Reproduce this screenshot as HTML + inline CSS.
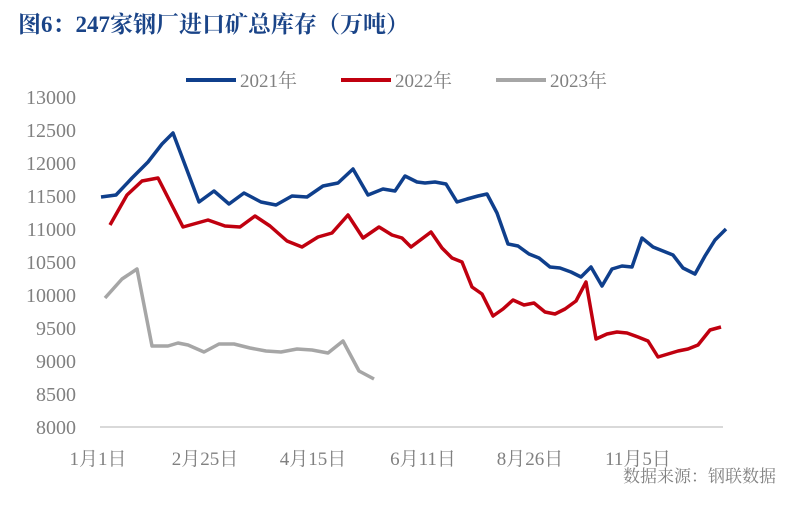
<!DOCTYPE html>
<html><head><meta charset="utf-8"><style>
body{margin:0;background:#fff;}
svg text{font-family:"Liberation Serif","Noto Serif CJK SC",serif;fill:#808080;}
</style></head><body>
<svg width="786" height="500" xmlns="http://www.w3.org/2000/svg">
<text x="18" y="32" style="font-family:'Liberation Serif','Noto Serif CJK SC',serif;font-weight:bold;font-size:23px;fill:#1a4488">图6：247家钢厂进口矿总库存（万吨）</text>
<g font-size="19">
<line x1="186" y1="80" x2="236" y2="80" stroke="#0f3f8c" stroke-width="4"/>
<text x="240" y="87">2021年</text>
<line x1="341" y1="80" x2="391" y2="80" stroke="#c0000f" stroke-width="4"/>
<text x="395" y="87">2022年</text>
<line x1="496" y1="80" x2="546" y2="80" stroke="#a6a6a6" stroke-width="4"/>
<text x="550" y="87">2023年</text>
</g>
<g font-size="20" text-anchor="end">
<text x="76" y="104">13000</text>
<text x="76" y="137">12500</text>
<text x="76" y="170">12000</text>
<text x="76" y="203">11500</text>
<text x="76" y="236">11000</text>
<text x="76" y="269">10500</text>
<text x="76" y="302">10000</text>
<text x="76" y="335">9500</text>
<text x="76" y="368">9000</text>
<text x="76" y="401">8500</text>
<text x="76" y="434">8000</text>
</g>
<line x1="100" y1="427" x2="723" y2="427" stroke="#d9d9d9" stroke-width="2"/>
<g font-size="19" text-anchor="middle">
<text x="98" y="465">1月1日</text>
<text x="205" y="465">2月25日</text>
<text x="313" y="465">4月15日</text>
<text x="423" y="465">6月11日</text>
<text x="530" y="465">8月26日</text>
<text x="638" y="465">11月5日</text>
</g>
<text x="776" y="482" font-size="17" text-anchor="end">数据来源：钢联数据</text>
<g fill="none" stroke-width="3.5" stroke-linejoin="round">
<polyline stroke="#a6a6a6" points="105,298 122,279 137,269 152,346 168,346 178,343 188,345 204,352 219,344 234,344 250,348 266,351 281,352 297,349 312,350 328,353 343,341 359,371 374,379"/>
<polyline stroke="#c0000f" points="110,225 127,195 142,181 158,178 183,227 208,220 225,226 240,227 255,216 270,226 287,241 302,247 318,237 332,233 348,215 363,238 379,227 392,235 402,238 411,247 431,232 442,248 452,258 462,262 472,287 482,294 493,316 503,309 513,300 524,305 534,303 545,312 555,314 565,309 576,301 586,282 596,339 607,334 617,332 627,333 638,337 648,341 658,357 668,354 678,351 688,349 698,345 710,330 721,327"/>
<polyline stroke="#0f3f8c" points="101,197 116,195 132,178 148,162 162,144 173,133 199,202 214,191 229,204 244,193 261,202 276,205 292,196 307,197 323,186 338,183 353,169 368,195 383,189 395,191 405,176 417,182 425,183 435,182 446,184 457,202 467,199 478,196 487,194 497,213 508,244 518,246 529,254 539,258 550,267 560,268 571,272 581,277 591,267 602,286 612,269 622,266 632,267 642,238 653,247 663,251 673,255 683,268 695,274 705,256 715,240 726,229"/>
</g>
</svg>
</body></html>
